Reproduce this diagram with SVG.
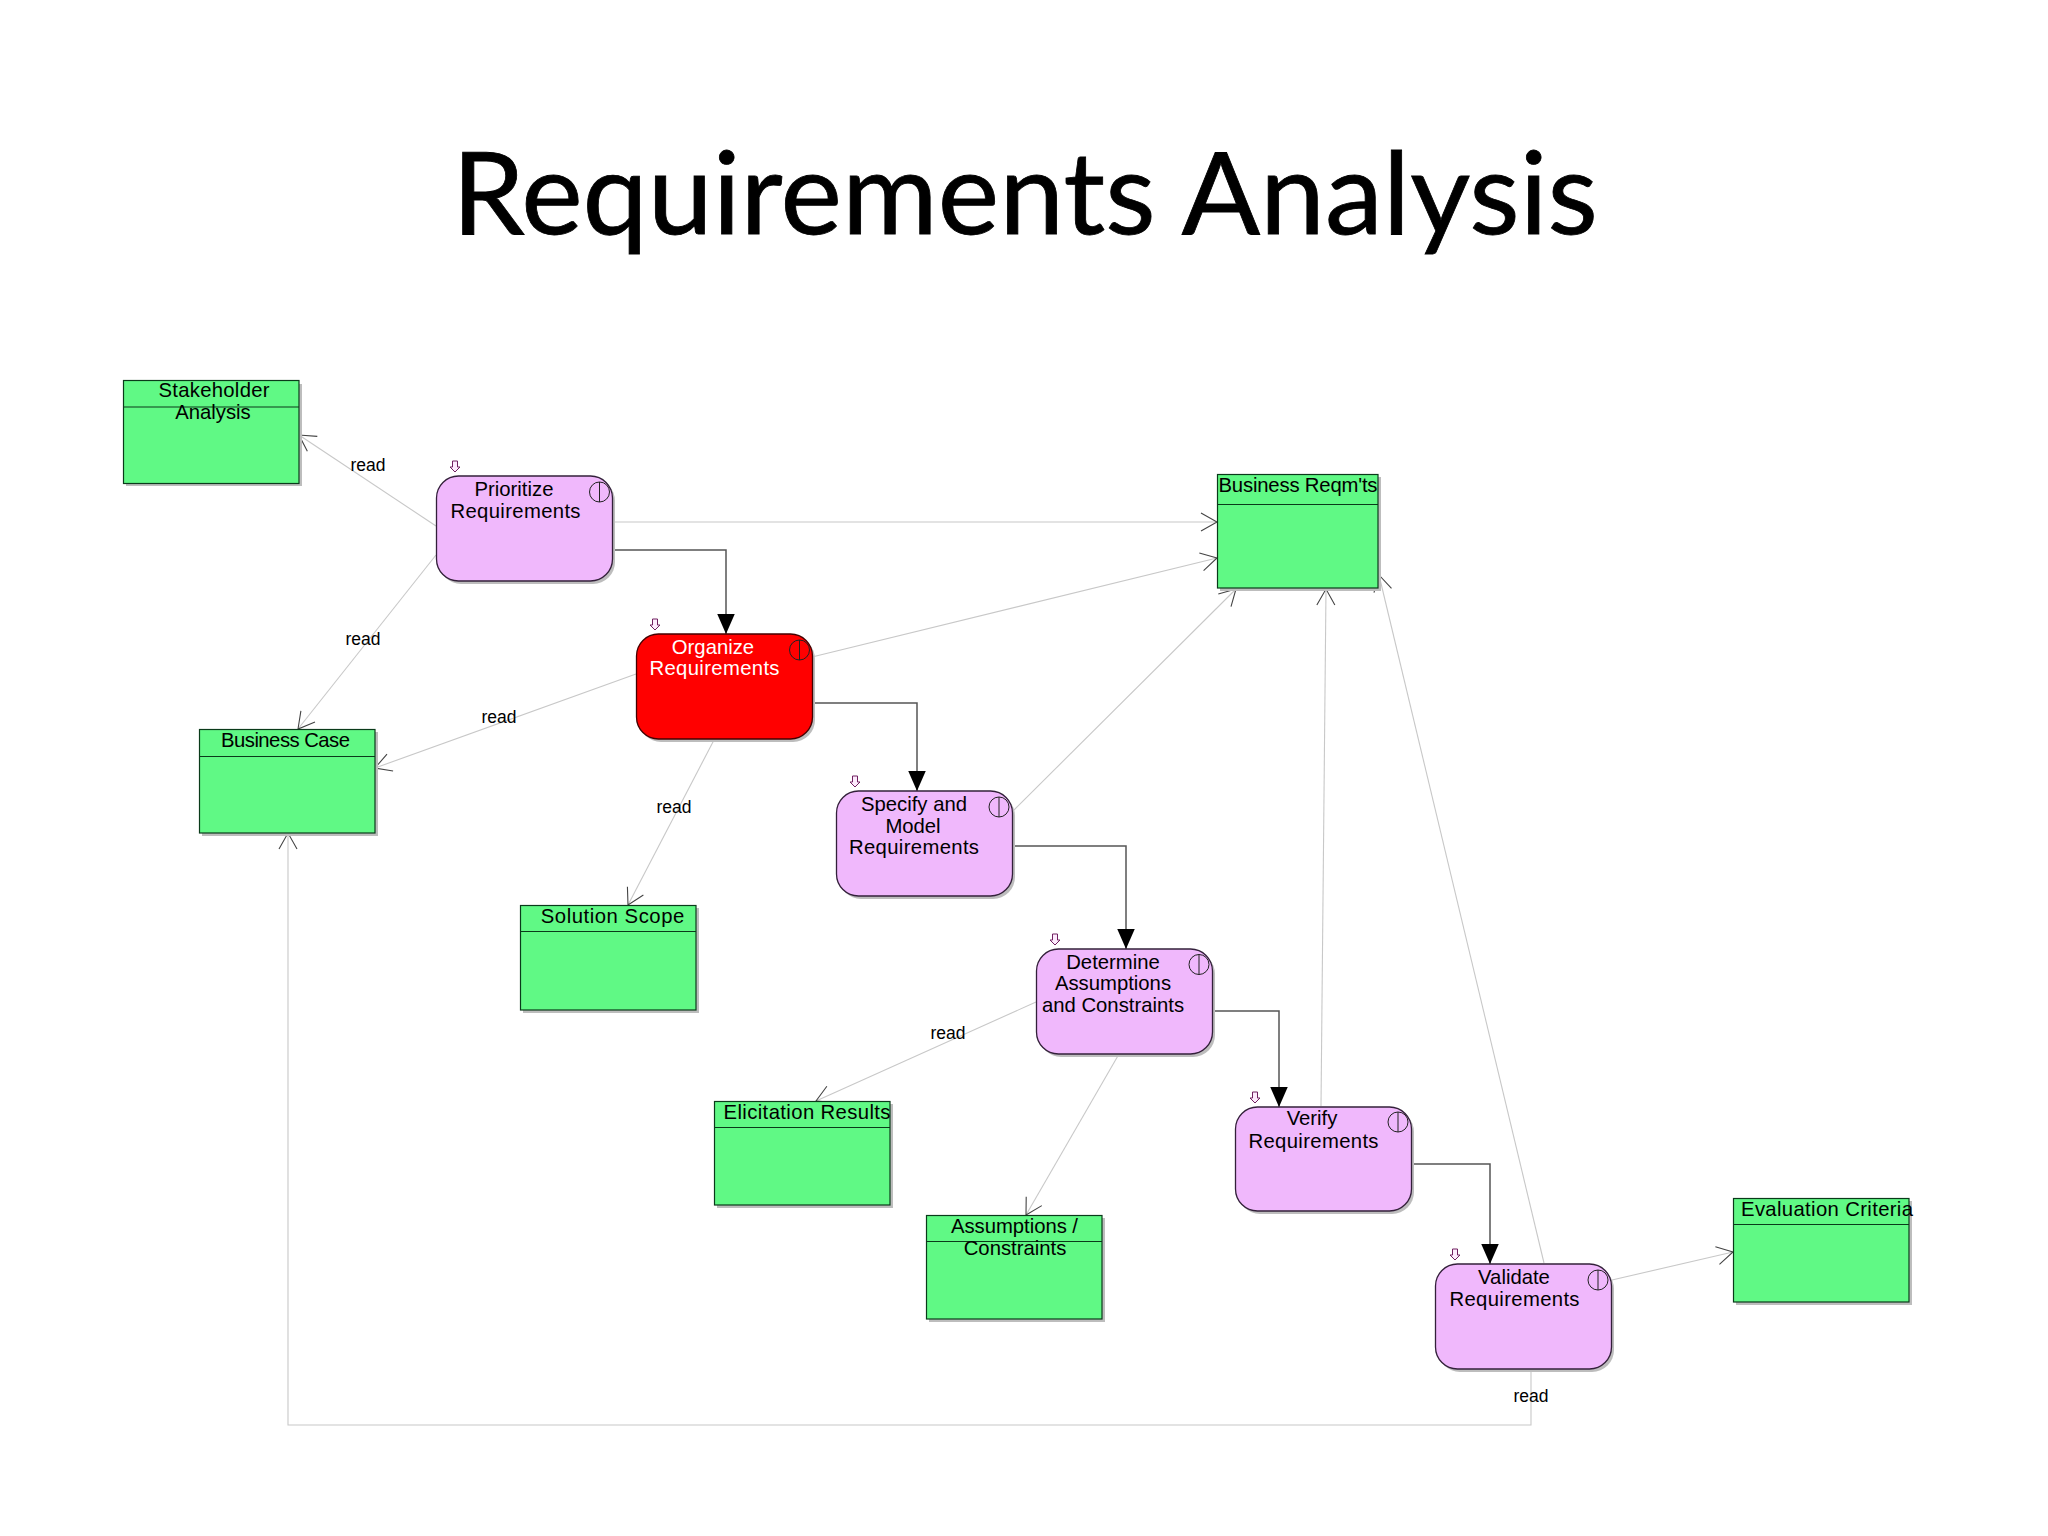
<svg xmlns="http://www.w3.org/2000/svg" width="2048" height="1536" viewBox="0 0 2048 1536">
<style>
text{font-family:"Liberation Sans",Arial,sans-serif;font-size:20.3px;text-anchor:middle;fill:#000}
.title{font-family:Lato,"Open Sans",sans-serif;font-size:115px;stroke:#000;stroke-width:.8}
.lbl{font-size:17.5px}
.art{fill:#60f985;stroke:#0a3a1a;stroke-width:1.2}
.hd{stroke:#0a3a1a;stroke-width:1.2}
.act{fill:#f0b8fc;stroke:#33203a;stroke-width:1.3}
.red{fill:#ff0000;stroke:#400;stroke-width:1.3}
.sh{fill:#bdbdbd}
.ic{fill:none;stroke:#222;stroke-width:1}
.dn{fill:#fdeafd;stroke:#702060;stroke-width:1}
.rd{fill:none;stroke:#c8c8c8;stroke-width:1.1;marker-end:url(#open)}
.fl{fill:none;stroke:#555;stroke-width:1.5;marker-end:url(#tri)}
.w{fill:#fff}
</style>
<defs>
<marker id="open" markerUnits="userSpaceOnUse" markerWidth="20" markerHeight="20" refX="18" refY="10" orient="auto" viewBox="0 0 20 20"><path d="M2 1L18 10L2 19" fill="none" stroke="#444" stroke-width="1.1"/></marker>
<marker id="tri" markerUnits="userSpaceOnUse" markerWidth="20" markerHeight="18" refX="16" refY="7" orient="auto" viewBox="0 0 16 14"><path d="M0 0L16 7L0 14Z" fill="#000"/></marker>
<g id="act-deco"><path class="dn" d="M-2.500 -5H2.500V1H5L0 6L-5 1H-2.500Z"/></g>
<g id="ic"><circle class="ic" cx="0" cy="0" r="10"/><path class="ic" d="M0 -10V10"/></g>
</defs>
<rect width="2048" height="1536" fill="#fff"/>
<text class="title" x="1025" y="234" textLength="1146" lengthAdjust="spacingAndGlyphs">Requirements Analysis</text>
<g id="connectors">
<path class="rd" d="M436 526L299 435"/>
<path class="rd" d="M436 555L298 729"/>
<path class="rd" d="M613 522H1217"/>
<path class="rd" d="M812 657L1217 558"/>
<path class="rd" d="M636 674L375 768"/>
<path class="rd" d="M714 740L628 905"/>
<path class="rd" d="M1012 812L1236 589"/>
<path class="rd" d="M1036 1002L816 1101"/>
<path class="rd" d="M1119 1054L1026 1215"/>
<path class="rd" d="M1321 1106L1326 589"/>
<path class="rd" d="M1544 1263L1379 575"/>
<path class="rd" d="M1612 1280L1733 1252"/>
<path class="rd" d="M1531 1369V1425H288V833"/>
<path class="fl" d="M612 550H726V634"/>
<path class="fl" d="M812 703H917V791"/>
<path class="fl" d="M1012 846H1126V949"/>
<path class="fl" d="M1212 1011H1279V1107"/>
<path class="fl" d="M1411 1164H1490V1264"/>
<text class="lbl" x="368" y="471">read</text>
<text class="lbl" x="363" y="645">read</text>
<text class="lbl" x="499" y="723">read</text>
<text class="lbl" x="674" y="813">read</text>
<text class="lbl" x="948" y="1039">read</text>
<text class="lbl" x="1531" y="1402">read</text>
</g>
<g id="stakeholder-analysis"><rect class="sh" x="126" y="384" width="176" height="102"/><rect class="art" x="123.500" y="380.500" width="175.500" height="103"/><path class="hd" d="M123 407H299"/><text x="214" y="396.500" textLength="111">Stakeholder</text><text x="213" y="418.500">Analysis</text></g>
<g id="business-case"><rect class="sh" x="202" y="732" width="176" height="104"/><rect class="art" x="199.500" y="729.500" width="175.500" height="103.500"/><path class="hd" d="M199 756.500H375"/><text x="285.500" y="746.500" textLength="129">Business Case</text></g>
<g id="business-reqmts"><rect class="sh" x="1220" y="477" width="161" height="114"/><rect class="art" x="1217.500" y="474.500" width="160.500" height="113.500"/><path class="hd" d="M1217 504.500H1378"/><text x="1298" y="491.500" textLength="159">Business Reqm'ts</text></g>
<g id="solution-scope"><rect class="sh" x="523" y="908" width="176" height="105"/><rect class="art" x="520.500" y="905.500" width="175.500" height="104.500"/><path class="hd" d="M520 931.500H696"/><text x="612.500" y="922.500" textLength="143.500">Solution Scope</text></g>
<g id="elicitation-results"><rect class="sh" x="717" y="1104" width="176" height="104"/><rect class="art" x="714.500" y="1101.500" width="175.500" height="103.500"/><path class="hd" d="M714 1127.500H890"/><text x="807" y="1118.500" textLength="167">Elicitation Results</text></g>
<g id="assumptions-constraints"><rect class="sh" x="929" y="1218" width="176" height="104"/><rect class="art" x="926.500" y="1215.500" width="175.500" height="103.500"/><path class="hd" d="M926 1241.500H1102"/><text x="1014.500" y="1232.500" textLength="127">Assumptions /</text><text x="1015" y="1254.500">Constraints</text></g>
<g id="evaluation-criteria"><rect class="sh" x="1736" y="1201" width="176" height="104"/><rect class="art" x="1733.500" y="1198.500" width="175.500" height="103.500"/><path class="hd" d="M1733 1224.500H1909"/><text x="1827" y="1215.500" textLength="172">Evaluation Criteria</text></g>
<g id="prioritize-requirements"><rect class="sh" x="439" y="479" width="176" height="105" rx="22"/><rect class="act" x="436.500" y="476" width="176" height="105" rx="22"/><use href="#act-deco" x="455" y="466"/><use href="#ic" x="599.500" y="492"/><text x="514" y="495.500">Prioritize</text><text x="515.500" y="517.500" textLength="130">Requirements</text></g>
<g id="organize-requirements"><rect class="sh" x="639" y="637" width="176" height="105" rx="22"/><rect class="red" x="636.500" y="634" width="176" height="105" rx="22"/><use href="#act-deco" x="655" y="624"/><use href="#ic" x="799.500" y="650"/><text class="w" x="713" y="653.500">Organize</text><text class="w" x="714.500" y="674.500" textLength="130">Requirements</text></g>
<g id="specify-model"><rect class="sh" x="839" y="794" width="176" height="105" rx="22"/><rect class="act" x="836.500" y="791" width="176" height="105" rx="22"/><use href="#act-deco" x="855" y="781"/><use href="#ic" x="999" y="807"/><text x="914" y="810.500">Specify and</text><text x="913" y="832.500">Model</text><text x="914" y="853.500" textLength="130">Requirements</text></g>
<g id="determine-assumptions"><rect class="sh" x="1039" y="952" width="176" height="105" rx="22"/><rect class="act" x="1036.500" y="949" width="176" height="105" rx="22"/><use href="#act-deco" x="1055" y="939"/><use href="#ic" x="1199" y="964.500"/><text x="1113" y="968.500">Determine</text><text x="1113" y="989.500">Assumptions</text><text x="1113" y="1011.500">and Constraints</text></g>
<g id="verify-requirements"><rect class="sh" x="1238" y="1110" width="176" height="104" rx="22"/><rect class="act" x="1235.500" y="1107" width="176" height="104" rx="22"/><use href="#act-deco" x="1255" y="1097"/><use href="#ic" x="1398" y="1122"/><text x="1312" y="1124.500">Verify</text><text x="1313.500" y="1147.500" textLength="130">Requirements</text></g>
<g id="validate-requirements"><rect class="sh" x="1438" y="1267" width="176" height="105" rx="22"/><rect class="act" x="1435.500" y="1264" width="176" height="105" rx="22"/><use href="#act-deco" x="1455" y="1254"/><use href="#ic" x="1598" y="1280"/><text x="1514" y="1283.500">Validate</text><text x="1514.500" y="1305.500" textLength="130">Requirements</text></g>
</svg>
